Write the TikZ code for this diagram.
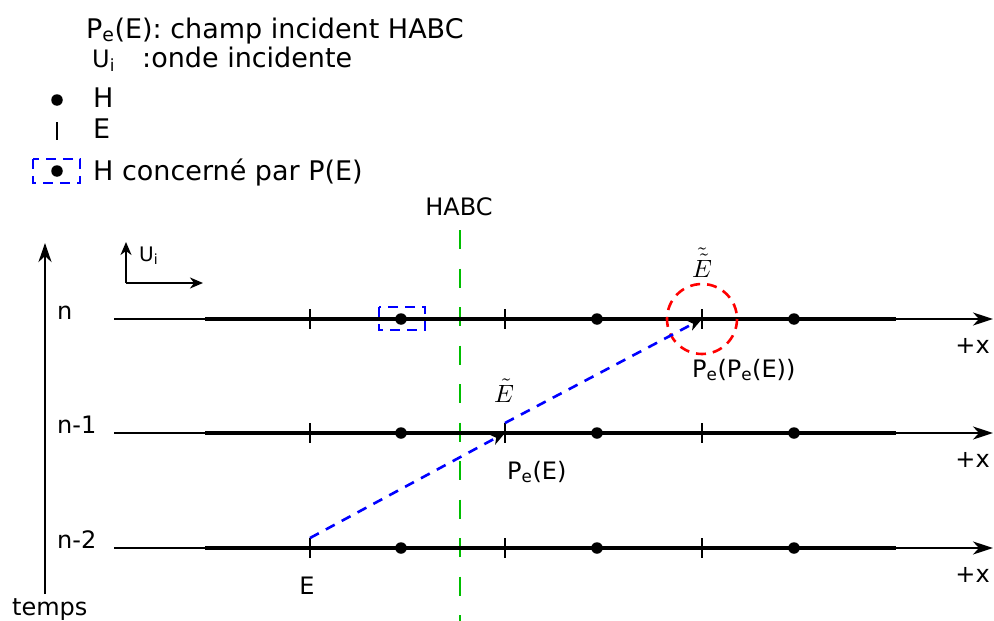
\documentclass[tikz,border=0pt]{standalone}
\usepackage{fontspec}
\setmainfont{DejaVu Sans}
\usepackage{graphicx}
\usetikzlibrary{arrows.meta}
\definecolor{habcgreen}{RGB}{0,190,0}
\begin{document}
\begin{tikzpicture}[x=1pt,y=-1pt,
  lbl/.style={inner sep=0pt,font=\fontsize{24}{28}\selectfont},
  leg/.style={inner sep=0pt,font=\fontsize{27}{32}\selectfont},
  smallu/.style={inner sep=0pt,font=\fontsize{24}{28}\selectfont},
  mathlbl/.style={inner sep=0pt,font=\fontsize{10}{12}\selectfont},
  rowline/.style={line width=2.4pt,-{Stealth[length=20pt,width=13pt,inset=6pt]}},
  rowthick/.style={line width=3.6pt},
  tickmark/.style={line width=2.8pt},
  axisarrow/.style={line width=2.8pt,-{Stealth[length=19pt,width=13pt,inset=6pt]}},
  smallarrow/.style={line width=2.8pt,-{Stealth[length=13pt,width=11pt,inset=4pt]}},
  bluearrow/.style={blue,line width=2.6pt,dash pattern=on 10pt off 8pt,-{Stealth[black,length=14pt,width=11pt,inset=4pt]}},
  habcline/.style={habcgreen,line width=2.6pt,dash pattern=on 19pt off 19.5pt},
  redcirc/.style={red,line width=2.6pt,dash pattern=on 10pt off 7pt},
  bluebox/.style={blue,line width=2.6pt,dash pattern=on 10pt off 7pt},
  hdot/.style={circle,fill=black,inner sep=0pt,minimum size=11.5pt}
]
\useasboundingbox (0,0) rectangle (994,621);

% legend
\node[leg,anchor=base west] (l1) at (86,38) {P\textsubscript{e}(E): champ incident HABC};
\node[smallu,anchor=base west] (l2u) at (92,67) {U\textsubscript{i}};
\node[leg,anchor=base west] (l2) at (142,67) {:onde incidente};
\node[hdot] (ldot) at (57,100) {};
\node[leg,anchor=base west] (l3) at (93,107) {H};
\coordinate (ltick) at (57,131);
\draw[tickmark] ([yshift=9pt]ltick) -- ([yshift=-9pt]ltick);
\node[leg,anchor=base west] (l4) at (93,138) {E};
\draw[bluebox] (33,159) rectangle (80,183);
\node[hdot] (ldot2) at (57,171) {};
\node[leg,anchor=base west] (l5) at (93,180) {H concerné par P(E)};

% HABC
\node[lbl,anchor=base] (habc) at (459,215) {HABC};
\coordinate (g0) at (460,230);
\coordinate (g1) at (460,621);
\draw[habcline] (g0) -- (g1);

% time axis
\coordinate (t0) at (45,594);
\coordinate (t1) at (45,243);
\draw[axisarrow] (t0) -- (t1);
\node[lbl,anchor=base west] (temps) at (12,615) {temps};

% Ui axes
\coordinate (u0) at (126,283);
\coordinate (u1) at (126,242);
\coordinate (u2) at (203,283);
\draw[smallarrow] (u0) -- (u1);
\draw[smallarrow] (u0) -- (u2);
\node[smallu,anchor=base west,font=\fontsize{20}{24}\selectfont] (ui) at (139,261) {U\textsubscript{i}};

% rows
\foreach \r/\y/\lab in {a/319/n,b/433/n-1,c/548/n-2} {
  \coordinate (\r L) at (114,\y);
  \coordinate (\r R) at (993,\y);
  \draw[rowline] (\r L) -- (\r R);
  \draw[rowthick] (205,\y) -- (896,\y);
  \node[lbl,anchor=base west] (\r lab) at (57,\y) {\lab};
  \node[lbl,anchor=base east] (\r x) at (990,\y+34) {+x};
  \foreach \i/\xx in {1/310,2/505,3/702} {
    \coordinate (\r T\i) at (\xx,\y);
    \draw[tickmark] ([yshift=10pt]\r T\i) -- ([yshift=-10pt]\r T\i);
  }
  \foreach \i/\xx in {1/401,2/597,3/794} {
    \node[hdot] (\r D\i) at (\xx,\y) {};
  }
}

% boxes and circle
\draw[bluebox] (379,307) rectangle (425,330);
\draw[redcirc] (aT3) circle (35);

% propagation arrows
\draw[bluearrow] ([yshift=10pt]cT1) -- (bT2);
\draw[bluearrow] ([yshift=10pt]bT2) -- (aT3);

% labels
\node[lbl,anchor=base] (E0) at (307,594) {E};
\node[lbl,anchor=base west] (pe) at (507,479) {P\textsubscript{e}(E)};
\node[lbl,anchor=base west] (pepe) at (692,377) {P\textsubscript{e}(P\textsubscript{e}(E))};
\node[mathlbl,anchor=base] (et) at (504,402) {\scalebox{2.5}{$\tilde{E}$}};
\node[mathlbl,anchor=base] (ett) at (702,277) {\scalebox{2.5}{$\tilde{\tilde{E}}$}};
\end{tikzpicture}
\end{document}
